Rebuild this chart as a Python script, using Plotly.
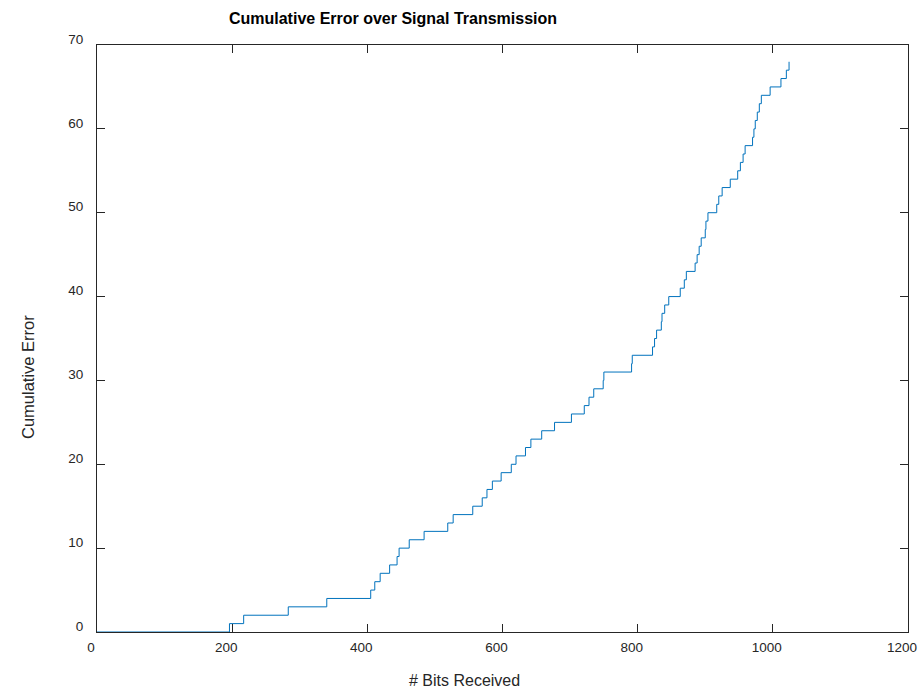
import plotly.graph_objects as go

# Bit positions at which each received bit was in error
error_bits = [
    196, 217, 283, 340, 405, 411, 419, 433, 444, 447,
    462, 484, 519, 527, 556, 570, 577, 585, 598, 613,
    620, 634, 642, 658, 677, 702, 721, 728, 735, 749,
    750, 791, 792, 822, 825, 828, 835, 836, 840, 846,
    863, 869, 872, 885, 888, 891, 894, 900, 901, 904,
    917, 920, 925, 937, 948, 952, 956, 959, 970, 972,
    974, 977, 980, 983, 996, 1012, 1020, 1024,
]
x_ticks = [0, 200, 400, 600, 800, 1000, 1200]
y_ticks = [0, 10, 20, 30, 40, 50, 60, 70]

# Running error count as a step series
xs = [0]
ys = [0]
for count, b in enumerate(error_bits, start=1):
    xs.append(b)
    ys.append(count)

axis_color = "#262626"
font_family = "Liberation Sans, Arial, sans-serif"

fig = go.Figure()
fig.add_trace(go.Scatter(
    x=xs, y=ys, mode="lines", line_shape="hv",
    line=dict(color="#0072BD", width=1),
    hoverinfo="x+y", showlegend=False,
))

common_axis = dict(
    showgrid=False, zeroline=False, showline=True, mirror="ticks",
    linecolor=axis_color, linewidth=1, ticks="inside", ticklen=8,
    tickwidth=1, tickcolor=axis_color, automargin=False,
    ticklabeloverflow="allow",
    tickfont=dict(family=font_family, size=13.5, color=axis_color),
)

fig.update_layout(
    width=918, height=690,
    margin=dict(l=97, r=10, t=45, b=58),
    paper_bgcolor="white", plot_bgcolor="white",
    font=dict(family=font_family, color=axis_color),
    title=dict(
        text="<b>Cumulative Error over Signal Transmission</b>",
        x=393 / 918, xanchor="center", xref="container",
        y=1 - 18 / 690, yanchor="middle", yref="container",
        font=dict(family=font_family, size=16, color="black"),
    ),
    xaxis=dict(range=[0, 1200], tickvals=x_ticks, ticklabelshift=-6,
               ticklabelstandoff=3, **common_axis),
    yaxis=dict(range=[0, 70], tickvals=y_ticks, ticklabelshift=-6,
               ticklabelstandoff=10, **common_axis),
    annotations=[
        dict(text="# Bits Received", xref="paper", yref="paper",
             x=(464 - 97) / 811, y=-(680 - 632) / 587,
             xanchor="center", yanchor="middle", showarrow=False,
             font=dict(family=font_family, size=16, color=axis_color)),
        dict(text="Cumulative Error", xref="paper", yref="paper",
             x=-(97 - 28) / 811, y=(632 - 377) / 587, textangle=-90,
             xanchor="center", yanchor="middle", showarrow=False,
             font=dict(family=font_family, size=16.5, color=axis_color)),
    ],
)

fig.write_html("out.html")
